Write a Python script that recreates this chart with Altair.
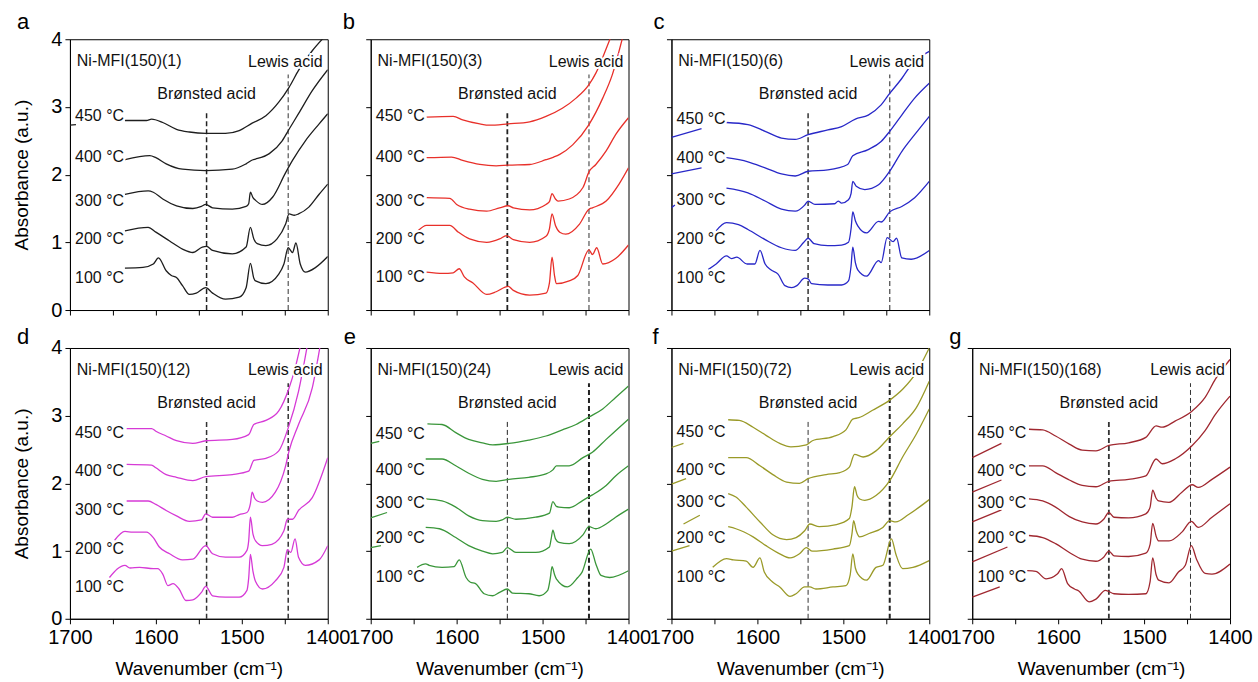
import altair as alt
import pandas as pd

FONT = "Liberation Sans"

PANELS = ["a", "b", "c", "d", "e", "f", "g"]
SAMPLES = ["Ni-MFI(150)(1)", "Ni-MFI(150)(3)", "Ni-MFI(150)(6)", "Ni-MFI(150)(12)",
           "Ni-MFI(150)(24)", "Ni-MFI(150)(72)", "Ni-MFI(150)(168)"]
COLORS = ["#1e1e1e", "#e8302a", "#2828c8", "#d63ad6", "#3a963a", "#9a9a28", "#a02830"]
TEMPS = ["100 °C", "200 °C", "300 °C", "400 °C", "450 °C"]
BRONSTED_X = 1541
LEWIS_X = 1446
BRONSTED_TOP = 2.93
LEWIS_TOP = 3.48
X_TICKS = [1400, 1450, 1500, 1550, 1600, 1650, 1700]
Y_TICKS = [0, 0.5, 1, 1.5, 2, 2.5, 3, 3.5, 4]

# temperature-label heights (100, 200, 300, 400, 450 °C) per panel
LBL_Y = {
    "a": [0.47, 1.05, 1.61, 2.26, 2.86],
    "b": [0.49, 1.05, 1.61, 2.26, 2.86],
    "c": [0.48, 1.05, 1.62, 2.25, 2.82],
    "d": [0.47, 1.03, 1.60, 2.19, 2.75],
    "e": [0.61, 1.19, 1.71, 2.20, 2.73],
    "f": [0.61, 1.20, 1.72, 2.20, 2.76],
    "g": [0.61, 1.19, 1.71, 2.19, 2.74],
}

# ---------------- spectra (wavenumber, absorbance) ----------------
A_100 = [(1636,0.62),(1615,0.63),(1603,0.68),(1597,0.77),(1588,0.58),(1582,0.51),(1576,0.48),(1569,0.36),(1561,0.23),(1553,0.25),(1542,0.33),(1534,0.25),(1519,0.16),(1503,0.19),(1495,0.33),(1490,0.69),(1486,0.47),(1484,0.43),(1472,0.39),(1457,0.53),(1451,0.68),(1446,0.92),(1441,0.85),(1437,0.99),(1432,0.68),(1426,0.56),(1414,0.63),(1400,0.79)]
A_200 = [(1636,1.17),(1609,1.22),(1600,1.15),(1584,1.02),(1569,0.90),(1557,0.85),(1546,0.93),(1541,0.94),(1534,0.88),(1511,0.83),(1495,0.93),(1490,1.22),(1486,1.05),(1482,0.98),(1472,0.95),(1459,1.05),(1449,1.27),(1445,1.42),(1439,1.40),(1434,1.42),(1422,1.52),(1410,1.71),(1400,1.86)]
A_300 = [(1636,1.71),(1609,1.76),(1603,1.74),(1592,1.64),(1576,1.54),(1557,1.50),(1547,1.53),(1542,1.56),(1534,1.51),(1511,1.49),(1495,1.53),(1492,1.57),(1490,1.74),(1487,1.66),(1484,1.62),(1476,1.56),(1464,1.67),(1449,2.03),(1441,2.21),(1426,2.50),(1410,2.75),(1400,2.90)]
A_400 = [(1636,2.22),(1607,2.28),(1600,2.25),(1588,2.16),(1569,2.08),(1542,2.06),(1511,2.08),(1495,2.16),(1487,2.22),(1484,2.23),(1468,2.31),(1453,2.50),(1445,2.67),(1434,2.90),(1418,3.24),(1400,3.55)]
A_450 = [(1636,2.80),(1611,2.80),(1605,2.82),(1592,2.77),(1576,2.67),(1561,2.63),(1542,2.61),(1519,2.61),(1503,2.65),(1488,2.76),(1472,2.87),(1457,3.07),(1445,3.29),(1434,3.54),(1418,3.83),(1405,4.02)]
A_450_LEFT = [(1700,2.73),(1693,2.74)]

B_100 = [(1635,0.56),(1616,0.54),(1604,0.55),(1597,0.61),(1591,0.49),(1581,0.40),(1565,0.23),(1554,0.27),(1540,0.35),(1534,0.29),(1515,0.22),(1496,0.25),(1492,0.40),(1489,0.78),(1486,0.50),(1484,0.39),(1469,0.43),(1459,0.51),(1446,0.89),(1442,0.82),(1437,0.92),(1430,0.68),(1415,0.76),(1400,0.96)]
B_200 = [(1645,1.17),(1635,1.25),(1608,1.25),(1598,1.15),(1585,1.05),(1565,1.00),(1550,1.05),(1542,1.10),(1534,1.04),(1515,1.00),(1496,1.09),(1492,1.20),(1489,1.42),(1485,1.25),(1480,1.15),(1473,1.12),(1457,1.27),(1446,1.49),(1442,1.51),(1426,1.61),(1411,1.86),(1400,2.10)]
B_300 = [(1635,1.66),(1608,1.65),(1600,1.56),(1585,1.49),(1565,1.46),(1550,1.51),(1540,1.54),(1534,1.51),(1515,1.48),(1496,1.56),(1492,1.60),(1489,1.72),(1485,1.64),(1482,1.61),(1469,1.64),(1453,1.81),(1446,2.04),(1438,2.15),(1426,2.35),(1415,2.59),(1400,2.84)]
B_400 = [(1635,2.25),(1606,2.26),(1593,2.21),(1573,2.15),(1554,2.13),(1540,2.14),(1515,2.15),(1496,2.22),(1487,2.26),(1480,2.30),(1465,2.44),(1446,2.74),(1430,3.13),(1419,3.47),(1407,4.02)]
B_450 = [(1635,2.85),(1604,2.86),(1593,2.81),(1573,2.75),(1562,2.73),(1540,2.75),(1515,2.78),(1496,2.86),(1477,2.98),(1461,3.13),(1446,3.33),(1438,3.50),(1426,3.86),(1421,4.02)]

C_100 = [(1657,0.60),(1648,0.68),(1636,0.80),(1630,0.76),(1624,0.78),(1612,0.68),(1603,0.68),(1597,0.88),(1591,0.68),(1584,0.59),(1576,0.53),(1568,0.36),(1560,0.33),(1554,0.36),(1545,0.47),(1541,0.46),(1537,0.39),(1518,0.37),(1502,0.37),(1494,0.43),(1491,0.65),(1489,0.93),(1486,0.70),(1483,0.59),(1473,0.50),(1459,0.73),(1456,0.70),(1449,1.07),(1442,1.01),(1438,1.06),(1432,0.77),(1421,0.75),(1400,0.88)]
C_200 = [(1648,1.17),(1636,1.29),(1622,1.26),(1611,1.19),(1591,1.04),(1572,0.92),(1556,0.88),(1546,1.00),(1541,1.06),(1534,0.98),(1518,0.95),(1502,0.96),(1494,1.00),(1491,1.20),(1489,1.45),(1486,1.32),(1483,1.24),(1473,1.14),(1459,1.31),(1456,1.30),(1446,1.45),(1432,1.53),(1417,1.66),(1400,1.90)]
C_300 = [(1636,1.80),(1611,1.73),(1591,1.61),(1572,1.49),(1556,1.46),(1545,1.55),(1541,1.61),(1533,1.56),(1510,1.57),(1506,1.61),(1502,1.58),(1494,1.63),(1491,1.72),(1489,1.90),(1485,1.83),(1475,1.78),(1459,1.85),(1446,2.05),(1432,2.34),(1417,2.59),(1400,2.86)]
C_300_LEFT = [(1700,1.51),(1696,1.55)]
C_400 = [(1636,2.25),(1611,2.19),(1591,2.10),(1572,2.01),(1556,1.98),(1541,2.05),(1518,2.07),(1495,2.15),(1489,2.28),(1471,2.37),(1456,2.49),(1446,2.64),(1432,2.88),(1417,3.13),(1400,3.35)]
C_400_LEFT = [(1700,2.01),(1665,2.10)]
C_450 = [(1636,2.77),(1611,2.74),(1591,2.64),(1572,2.54),(1556,2.52),(1541,2.59),(1518,2.66),(1502,2.71),(1486,2.82),(1471,2.88),(1456,3.03),(1446,3.20),(1432,3.42),(1421,3.62),(1400,3.82)]
C_450_LEFT = [(1700,2.55),(1665,2.68)]

D_100 = [(1654,0.61),(1636,0.79),(1630,0.75),(1619,0.76),(1603,0.74),(1598,0.74),(1592,0.66),(1586,0.49),(1580,0.52),(1573,0.44),(1565,0.27),(1557,0.28),(1547,0.39),(1542,0.48),(1534,0.34),(1519,0.32),(1503,0.32),(1494,0.42),(1492,0.60),(1490,0.95),(1487,0.70),(1484,0.55),(1476,0.44),(1461,0.56),(1451,0.76),(1447,1.02),(1443,0.98),(1438,1.18),(1434,0.91),(1426,0.79),(1410,0.87),(1400,1.08)]
D_200 = [(1648,1.16),(1636,1.29),(1627,1.28),(1611,1.28),(1603,1.20),(1596,1.06),(1584,0.96),(1569,0.87),(1557,0.88),(1542,1.08),(1534,0.96),(1519,0.91),(1503,0.91),(1494,1.01),(1492,1.15),(1490,1.50),(1487,1.25),(1484,1.15),(1476,1.08),(1465,1.10),(1451,1.30),(1447,1.47),(1441,1.47),(1434,1.60),(1418,1.79),(1400,2.38)]
D_300 = [(1634,1.74),(1609,1.74),(1600,1.69),(1588,1.60),(1576,1.52),(1561,1.44),(1547,1.46),(1542,1.55),(1534,1.50),(1511,1.50),(1503,1.54),(1494,1.57),(1490,1.70),(1488,1.87),(1485,1.78),(1482,1.74),(1476,1.72),(1461,1.87),(1449,2.26),(1445,2.48),(1434,2.87),(1418,3.41),(1409,4.02)]
D_400 = [(1634,2.28),(1605,2.27),(1600,2.23),(1588,2.13),(1576,2.09),(1557,2.04),(1542,2.10),(1511,2.13),(1492,2.18),(1486,2.34),(1472,2.37),(1457,2.48),(1446,2.82),(1434,3.36),(1424,4.02)]
D_450 = [(1634,2.81),(1605,2.81),(1600,2.77),(1588,2.70),(1576,2.63),(1557,2.59),(1542,2.63),(1511,2.65),(1492,2.72),(1486,2.87),(1472,2.93),(1457,3.07),(1445,3.41),(1438,3.70),(1432,4.02)]

E_100 = [(1646,0.76),(1636,0.81),(1632,0.79),(1617,0.76),(1603,0.77),(1597,0.87),(1589,0.61),(1584,0.54),(1578,0.52),(1568,0.37),(1558,0.34),(1550,0.39),(1541,0.44),(1535,0.38),(1516,0.37),(1504,0.34),(1494,0.42),(1491,0.60),(1489,0.77),(1486,0.65),(1484,0.59),(1471,0.47),(1459,0.61),(1454,0.69),(1444,1.03),(1438,0.81),(1432,0.64),(1422,0.61),(1400,0.71)]
E_200 = [(1636,1.35),(1620,1.33),(1601,1.20),(1586,1.08),(1570,1.00),(1558,0.96),(1547,0.98),(1541,1.05),(1531,0.98),(1508,0.98),(1492,1.06),(1490,1.18),(1488,1.31),(1485,1.18),(1481,1.13),(1469,1.11),(1453,1.24),(1446,1.36),(1438,1.33),(1426,1.40),(1415,1.50),(1400,1.62)]
E_200_LEFT = [(1700,1.05),(1688,1.08)]
E_300 = [(1636,1.77),(1617,1.74),(1601,1.65),(1586,1.52),(1570,1.45),(1554,1.44),(1547,1.46),(1541,1.50),(1531,1.47),(1508,1.50),(1492,1.56),(1488,1.73),(1484,1.66),(1481,1.65),(1469,1.64),(1453,1.75),(1442,1.83),(1426,1.97),(1415,2.11),(1400,2.26)]
E_300_LEFT = [(1700,1.49),(1681,1.57)]
E_400 = [(1636,2.36),(1617,2.36),(1601,2.26),(1586,2.15),(1570,2.06),(1554,2.03),(1539,2.06),(1516,2.09),(1496,2.14),(1488,2.20),(1484,2.26),(1469,2.26),(1453,2.38),(1442,2.46),(1426,2.65),(1400,2.95)]
E_450 = [(1634,2.88),(1617,2.87),(1601,2.75),(1586,2.65),(1570,2.60),(1558,2.57),(1539,2.59),(1516,2.64),(1496,2.70),(1477,2.79),(1461,2.87),(1446,2.98),(1430,3.10),(1415,3.27),(1400,3.44)]
E_450_LEFT = [(1700,2.59),(1690,2.62)]

F_100 = [(1652,0.76),(1636,0.89),(1628,0.87),(1613,0.85),(1605,0.76),(1597,0.90),(1592,0.69),(1582,0.54),(1574,0.47),(1562,0.33),(1555,0.37),(1545,0.47),(1539,0.47),(1532,0.44),(1512,0.47),(1497,0.49),(1492,0.65),(1489,0.96),(1486,0.75),(1483,0.66),(1473,0.57),(1462,0.76),(1454,0.79),(1444,1.18),(1439,0.96),(1431,0.74),(1419,0.76),(1400,0.86)]
F_200 = [(1634,1.36),(1625,1.33),(1605,1.21),(1590,1.08),(1574,0.96),(1562,0.90),(1551,0.96),(1543,1.05),(1536,1.00),(1512,1.03),(1493,1.08),(1490,1.25),(1488,1.45),(1485,1.30),(1481,1.21),(1470,1.26),(1454,1.35),(1446,1.45),(1439,1.43),(1424,1.54),(1400,1.76)]
F_200_LEFT = [(1700,1.00),(1679,1.08)]
F_300 = [(1634,1.85),(1625,1.80),(1613,1.65),(1597,1.43),(1582,1.24),(1566,1.17),(1555,1.20),(1545,1.30),(1539,1.40),(1528,1.36),(1508,1.39),(1493,1.48),(1490,1.65),(1487,1.95),(1484,1.82),(1481,1.77),(1475,1.75),(1462,1.82),(1446,2.04),(1431,2.39),(1415,2.73),(1400,3.10)]
F_300_LEFT = [(1686,1.40),(1667,1.53)]
F_400 = [(1634,2.38),(1613,2.38),(1597,2.26),(1582,2.13),(1566,2.02),(1551,2.00),(1541,2.07),(1520,2.13),(1504,2.16),(1493,2.24),(1487,2.43),(1477,2.39),(1462,2.48),(1446,2.69),(1431,2.88),(1415,3.12),(1400,3.51)]
F_400_LEFT = [(1700,1.99),(1683,2.07)]
F_450 = [(1634,2.94),(1621,2.93),(1605,2.83),(1590,2.71),(1574,2.59),(1561,2.54),(1543,2.57),(1536,2.63),(1512,2.69),(1497,2.79),(1489,2.95),(1482,2.97),(1466,3.08),(1446,3.23),(1431,3.39),(1415,3.64),(1400,4.00)]
F_450_LEFT = [(1700,2.53),(1686,2.59)]

G_100 = [(1636,0.71),(1626,0.70),(1614,0.59),(1601,0.66),(1596,0.74),(1589,0.52),(1581,0.44),(1576,0.41),(1564,0.25),(1556,0.29),(1545,0.42),(1535,0.37),(1518,0.36),(1498,0.37),(1493,0.55),(1490,0.90),(1486,0.65),(1483,0.57),(1471,0.53),(1460,0.69),(1452,0.79),(1445,1.08),(1439,0.88),(1429,0.67),(1421,0.66),(1400,0.81)]
G_100_LEFT = [(1700,0.32),(1668,0.47)]
G_200 = [(1634,1.23),(1618,1.20),(1603,1.11),(1587,0.98),(1572,0.88),(1556,0.85),(1547,0.91),(1541,1.00),(1535,0.93),(1518,0.92),(1498,0.97),(1493,1.10),(1490,1.41),(1486,1.22),(1483,1.15),(1471,1.15),(1456,1.28),(1445,1.44),(1437,1.35),(1421,1.50),(1400,1.70)]
G_200_LEFT = [(1700,0.84),(1659,1.06)]
G_300 = [(1634,1.77),(1618,1.74),(1603,1.65),(1587,1.51),(1572,1.43),(1556,1.40),(1547,1.47),(1541,1.57),(1535,1.50),(1518,1.49),(1498,1.55),(1493,1.65),(1490,1.90),(1486,1.78),(1483,1.74),(1471,1.72),(1456,1.87),(1444,1.98),(1437,1.94),(1421,2.06),(1400,2.24)]
G_300_LEFT = [(1700,1.43),(1666,1.61)]
G_400 = [(1634,2.26),(1618,2.26),(1603,2.16),(1587,2.05),(1572,1.97),(1556,1.95),(1541,2.03),(1518,2.06),(1498,2.11),(1486,2.36),(1479,2.29),(1464,2.36),(1444,2.56),(1429,2.78),(1417,3.02),(1400,3.29)]
G_400_LEFT = [(1700,1.87),(1666,2.05)]
G_450 = [(1634,2.80),(1618,2.79),(1603,2.70),(1587,2.58),(1572,2.49),(1556,2.48),(1541,2.56),(1518,2.60),(1498,2.68),(1486,2.85),(1479,2.83),(1464,2.92),(1444,3.07),(1429,3.27),(1417,3.54),(1400,3.83)]
G_450_LEFT = [(1700,2.38),(1666,2.59)]

CURVES = {
    "a": {"100 °C": [A_100], "200 °C": [A_200], "300 °C": [A_300], "400 °C": [A_400], "450 °C": [A_450, A_450_LEFT]},
    "b": {"100 °C": [B_100], "200 °C": [B_200], "300 °C": [B_300], "400 °C": [B_400], "450 °C": [B_450]},
    "c": {"100 °C": [C_100], "200 °C": [C_200], "300 °C": [C_300, C_300_LEFT], "400 °C": [C_400, C_400_LEFT], "450 °C": [C_450, C_450_LEFT]},
    "d": {"100 °C": [D_100], "200 °C": [D_200], "300 °C": [D_300], "400 °C": [D_400], "450 °C": [D_450]},
    "e": {"100 °C": [E_100], "200 °C": [E_200, E_200_LEFT], "300 °C": [E_300, E_300_LEFT], "400 °C": [E_400], "450 °C": [E_450, E_450_LEFT]},
    "f": {"100 °C": [F_100], "200 °C": [F_200, F_200_LEFT], "300 °C": [F_300, F_300_LEFT], "400 °C": [F_400, F_400_LEFT], "450 °C": [F_450, F_450_LEFT]},
    "g": {"100 °C": [G_100, G_100_LEFT], "200 °C": [G_200, G_200_LEFT], "300 °C": [G_300, G_300_LEFT], "400 °C": [G_400, G_400_LEFT], "450 °C": [G_450, G_450_LEFT]},
}

# dashed guide styles per panel: (bronsted width, bronsted color, lewis width, lewis color)
GUIDES = {
    "a": (1.5, "#222222", 1.2, "#555555"),
    "b": (1.8, "#222222", 1.2, "#555555"),
    "c": (1.5, "#333333", 1.3, "#555555"),
    "d": (1.5, "#333333", 1.5, "#333333"),
    "e": (1.0, "#222222", 2.0, "#222222"),
    "f": (1.0, "#333333", 2.0, "#222222"),
    "g": (1.8, "#333333", 1.0, "#333333"),
}

# panel letter offsets relative to the plot's top-left (px)
LETTER_POS = {"a": (-53, -10), "b": (-28, -10), "c": (-18, -10),
              "d": (-53, -4), "e": (-27, -4), "f": (-19, -4), "g": (-23, -4)}

W, H = 258, 271
TXT = "#111111"


def text_layers(df, align, xenc, yenc):
    base = alt.Chart(df).encode(x=xenc, y=yenc, text="t:N")
    halo = base.mark_text(align=align, baseline="middle", font=FONT, fontSize=16,
                          stroke="white", strokeWidth=4, fill="white")
    front = base.mark_text(align=align, baseline="middle", font=FONT, fontSize=16, color=TXT)
    return [halo, front]


def panel(i, bottom, left):
    pid = PANELS[i]
    rows = []
    for t in TEMPS:
        for k, seg in enumerate(CURVES[pid][t]):
            for (x, y) in seg:
                rows.append({"x": x, "y": y, "key": f"{t}-{k}"})
    lines_df = pd.DataFrame(rows)

    xaxis_kw = dict(values=X_TICKS, format="d", labelOverlap=False, labelFlush=False,
                    tickSize=5, labelPadding=4, titlePadding=12)
    if bottom:
        xaxis = alt.Axis(title="Wavenumber (cm⁻¹)",
                         labelExpr="datum.value % 100 === 0 ? datum.label : ''", **xaxis_kw)
    else:
        xaxis = alt.Axis(title=None, labels=False, **xaxis_kw)
    yaxis_kw = dict(values=Y_TICKS, format="d", labelOverlap=False, labelFlush=False,
                    tickSize=5, labelPadding=3, titlePadding=19)
    if left:
        yaxis = alt.Axis(title="Absorbance (a.u.)",
                         labelExpr="datum.value % 1 === 0 ? datum.label : ''", **yaxis_kw)
    else:
        yaxis = alt.Axis(title=None, labels=False, **yaxis_kw)

    X = alt.X("x:Q", scale=alt.Scale(domain=[1400, 1700], reverse=True, nice=False, zero=False), axis=xaxis)
    Y = alt.Y("y:Q", scale=alt.Scale(domain=[0, 4], nice=False, zero=False), axis=yaxis)

    lines = alt.Chart(lines_df).mark_line(clip=True, strokeWidth=1.3, color=COLORS[i],
                                          interpolate="monotone").encode(
        x=X, y=Y, detail="key:N")

    bw, bc, lw, lc = GUIDES[pid]
    rules_df = pd.DataFrame({"x": [BRONSTED_X, LEWIS_X], "y": [0, 0],
                             "y2": [BRONSTED_TOP, LEWIS_TOP],
                             "w": [bw, lw], "c": [bc, lc]})
    rules = alt.Chart(rules_df).mark_rule(strokeDash=[5, 3]).encode(
        x=X, y=Y, y2="y2:Q",
        strokeWidth=alt.StrokeWidth("w:Q", scale=None),
        color=alt.Color("c:N", scale=None))

    left_df = pd.DataFrame({"x": [1694] * 5 + [1692],
                            "y": LBL_Y[pid] + [3.68],
                            "t": TEMPS + [SAMPLES[i]]})
    lewis_df = pd.DataFrame({"x": [1406], "y": [3.67], "t": ["Lewis acid"]})
    bron_df = pd.DataFrame({"x": [BRONSTED_X], "y": [3.19], "t": ["Brønsted acid"]})

    texts = (text_layers(left_df, "left", X, Y) + text_layers(lewis_df, "right", X, Y)
             + text_layers(bron_df, "center", X, Y))

    lx, ly = LETTER_POS[pid]
    letter = alt.Chart(pd.DataFrame({"t": [pid]})).mark_text(
        align="left", baseline="alphabetic", font=FONT, fontSize=22, color="#000000").encode(
        x=alt.value(lx), y=alt.value(ly), text="t:N")

    return alt.layer(rules, lines, *texts, letter).properties(width=W, height=H)


def empty_cell():
    return alt.Chart(pd.DataFrame({"x": [1500], "y": [2]})).mark_point(opacity=0).encode(
        x=alt.X("x:Q", axis=None), y=alt.Y("y:Q", axis=None)
    ).properties(width=W, height=H, view=alt.ViewBackground(stroke="transparent"))


chart = alt.concat(
    panel(0, False, True), panel(1, False, False), panel(2, False, False), empty_cell(),
    panel(3, True, True), panel(4, True, False), panel(5, True, False), panel(6, True, False),
    columns=4, spacing={"row": 38, "column": 43}, bounds="flush"
).properties(
    padding={"left": 12, "top": 10, "right": 5, "bottom": 5}
).configure_view(stroke="#000000", strokeWidth=1).configure_axis(
    grid=False, domainColor="#000000", tickColor="#000000", labelColor="#000000",
    titleColor="#000000", labelFont=FONT, titleFont=FONT, labelFontSize=20,
    titleFontSize=19, titleFontWeight="normal", domainWidth=1, tickWidth=1
)

chart.save("out.html", embed_options={"renderer": "svg", "actions": False})
